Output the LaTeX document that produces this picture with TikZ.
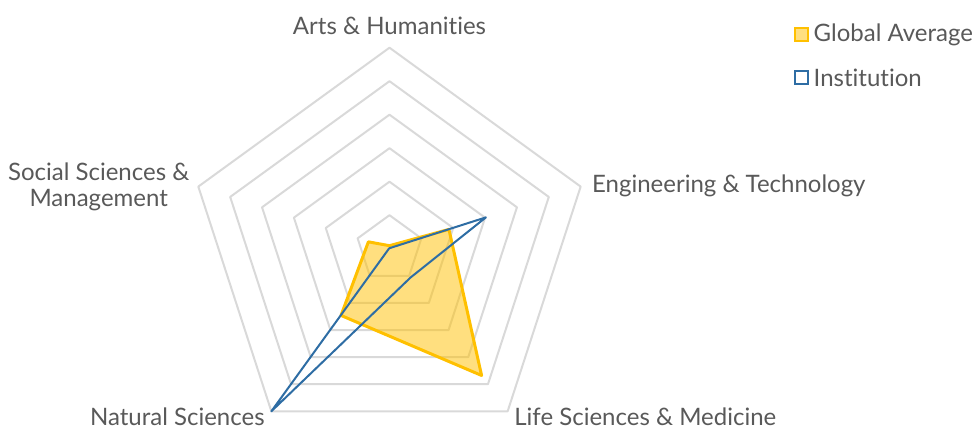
\documentclass[tikz,border=0pt]{standalone}
\usepackage{fontspec}
\setmainfont{Lato}[Ligatures=NoCommon]
\definecolor{gridgray}{HTML}{D9D9D9}
\definecolor{labelgray}{HTML}{595959}
\definecolor{avggold}{HTML}{FFC000}
\definecolor{instblue}{HTML}{2E6DA4}
\tikzset{
  ring/.style={draw=gridgray, line width=1pt, line join=round},
  avgarea/.style={draw=avggold, line width=1.5pt, fill=avggold, fill opacity=0.5, line join=round},
  instline/.style={draw=instblue, line width=1pt, line join=round},
  axislabel/.style={text=labelgray, inner sep=0pt, font=\fontsize{12}{13}\selectfont},
  keybox/.style={minimum size=6.5pt, inner sep=0pt, line width=0.8pt}
}
\begin{document}
\begin{tikzpicture}[x=0.5pt, y=0.5pt]
\useasboundingbox (-389.5,-179.3) rectangle (586.5,248.7);

\draw[ring] (90:33.5) -- (18:33.5) -- (-54:33.5) -- (-126:33.5) -- (162:33.5) -- cycle;
\draw[ring] (90:67) -- (18:67) -- (-54:67) -- (-126:67) -- (162:67) -- cycle;
\draw[ring] (90:100.5) -- (18:100.5) -- (-54:100.5) -- (-126:100.5) -- (162:100.5) -- cycle;
\draw[ring] (90:134) -- (18:134) -- (-54:134) -- (-126:134) -- (162:134) -- cycle;
\draw[ring] (90:167.5) -- (18:167.5) -- (-54:167.5) -- (-126:167.5) -- (162:167.5) -- cycle;
\draw[ring] (90:201) -- (18:201) -- (-54:201) -- (-126:201) -- (162:201) -- cycle;

% global average
\coordinate (avgArts) at (90:3);
\coordinate (avgEng) at (18:62.5);
\coordinate (avgLife) at (-54:156.7);
\coordinate (avgNat) at (-126:82.5);
\coordinate (avgSoc) at (162:22.2);
\draw[avgarea] (avgArts) -- (avgEng) -- (avgLife) -- (avgNat) -- (avgSoc) -- cycle;

% institution
\coordinate (instArts) at (90:0.5);
\coordinate (instEng) at (18:101.4);
\coordinate (instLife) at (-54:35.7);
\coordinate (instNat) at (-126:201);
\coordinate (instSoc) at (162:0.5);
\draw[instline] (instArts) -- (instEng) -- (instLife) -- (instNat) -- (instSoc) -- cycle;

\node[axislabel, anchor=base] (arts) at (0,214) {Arts \& Humanities};
\node[axislabel, anchor=base west] (eng) at (202.2,56) {Engineering \& Technology};
\node[axislabel, anchor=base west] (life) at (124.5,-177) {Life Sciences \& Medicine};
\node[axislabel, anchor=base east] (nat) at (-124.5,-177) {Natural Sciences};
\node[axislabel, align=center, anchor=center] (soc) at (-290.8,62) {Social Sciences \&\\Management};

\node[keybox, draw=avggold, fill=avggold!50] (avgkey) at (412,214.2) {};
\node[axislabel, anchor=base west] (avgtext) at (423.8,207) {Global Average};
\node[keybox, draw=instblue, fill=white] (instkey) at (412,171.2) {};
\node[axislabel, anchor=base west] (insttext) at (423.8,162) {Institution};

\end{tikzpicture}
\end{document}
